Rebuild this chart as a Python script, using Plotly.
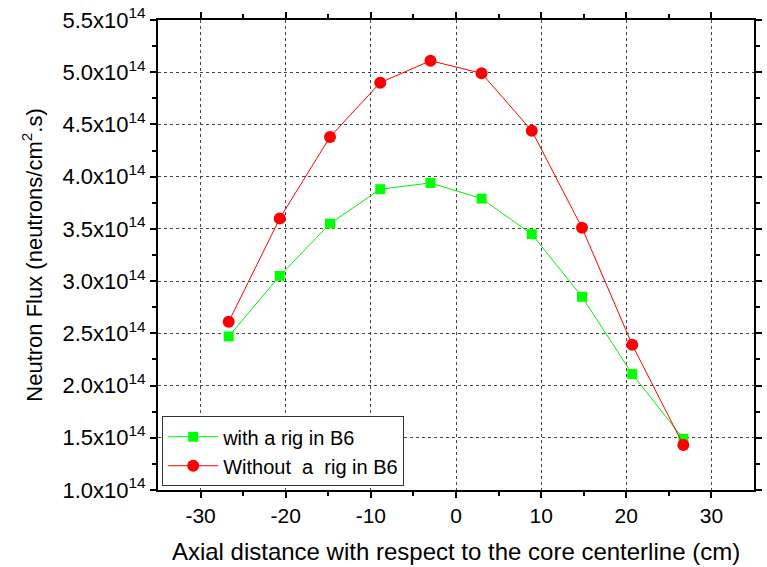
import plotly.graph_objects as go

x_pos = [-26.7, -20.7, -14.8, -8.9, -3.0, 3.0, 8.9, 14.8, 20.7, 26.7]
flux_with_rig = [2.47e14, 3.05e14, 3.55e14, 3.88e14, 3.94e14, 3.79e14, 3.45e14, 2.85e14, 2.11e14, 1.49e14]
flux_without_rig = [2.61e14, 3.60e14, 4.38e14, 4.90e14, 5.11e14, 4.99e14, 4.44e14, 3.51e14, 2.39e14, 1.43e14]

y_tick_vals = [1.0e14, 1.5e14, 2.0e14, 2.5e14, 3.0e14, 3.5e14, 4.0e14, 4.5e14, 5.0e14, 5.5e14]
y_tick_text = ["1.0x10<sup>14</sup>", "1.5x10<sup>14</sup>", "2.0x10<sup>14</sup>", "2.5x10<sup>14</sup>",
               "3.0x10<sup>14</sup>", "3.5x10<sup>14</sup>", "4.0x10<sup>14</sup>", "4.5x10<sup>14</sup>",
               "5.0x10<sup>14</sup>", "5.5x10<sup>14</sup>"]
x_tick_vals = [-30, -20, -10, 0, 10, 20, 30]
x_tick_text = ["-30", "-20", "-10", "0", "10", "20", "30"]

font = "Liberation Sans, Arial, sans-serif"

fig = go.Figure()
fig.add_trace(go.Scatter(
    x=x_pos, y=flux_with_rig, mode="lines+markers", name="with a rig in B6",
    line=dict(color="#00ee00", width=1),
    marker=dict(symbol="square", size=10, color="#00ff00"),
))
fig.add_trace(go.Scatter(
    x=x_pos, y=flux_without_rig, mode="lines+markers", name="Without  a  rig in B6",
    line=dict(color="#ff0000", width=1),
    marker=dict(symbol="circle", size=12, color="#ff0000"),
))

axis_common = dict(
    showline=True, linecolor="black", linewidth=2, mirror="ticks",
    ticks="outside", ticklen=6, tickwidth=2, tickcolor="black",
    showgrid=True, gridcolor="#444444", griddash="dot", gridwidth=1,
    zeroline=False,
)

fig.update_xaxes(
    range=[-35, 35], tickvals=x_tick_vals, ticktext=x_tick_text,
    tickfont=dict(family=font, size=21, color="black"),
    minor=dict(tickvals=[-25, -15, -5, 5, 15, 25], ticks="outside", ticklen=4, tickwidth=1.5,
               tickcolor="black", showgrid=False),
    title=dict(text="Axial distance with respect to the core centerline (cm)",
               font=dict(family=font, size=24, color="black"), standoff=17),
    **axis_common,
)
fig.update_yaxes(
    range=[1.0e14, 5.5e14], tickvals=y_tick_vals, ticktext=y_tick_text,
    tickfont=dict(family=font, size=22, color="black"),
    minor=dict(tickvals=[1.25e14, 1.75e14, 2.25e14, 2.75e14, 3.25e14, 3.75e14, 4.25e14, 4.75e14, 5.25e14],
               ticks="outside", ticklen=4, tickwidth=1.5, tickcolor="black", showgrid=False),
    title=dict(text="Neutron Flux (neutrons/cm<sup>2</sup>.s)",
               font=dict(family=font, size=22, color="black"), standoff=14),
    **axis_common,
)

fig.update_layout(
    width=767, height=567,
    margin=dict(l=158, r=13, t=20, b=77, autoexpand=False),
    paper_bgcolor="white", plot_bgcolor="white",
    showlegend=True,
    legend=dict(
        x=0.007, y=0.008, xanchor="left", yanchor="bottom",
        bgcolor="white", bordercolor="#333333", borderwidth=1,
        font=dict(family=font, size=20, color="black"),
        tracegroupgap=0, itemwidth=50,
    ),
)

fig.write_html("out.html")
